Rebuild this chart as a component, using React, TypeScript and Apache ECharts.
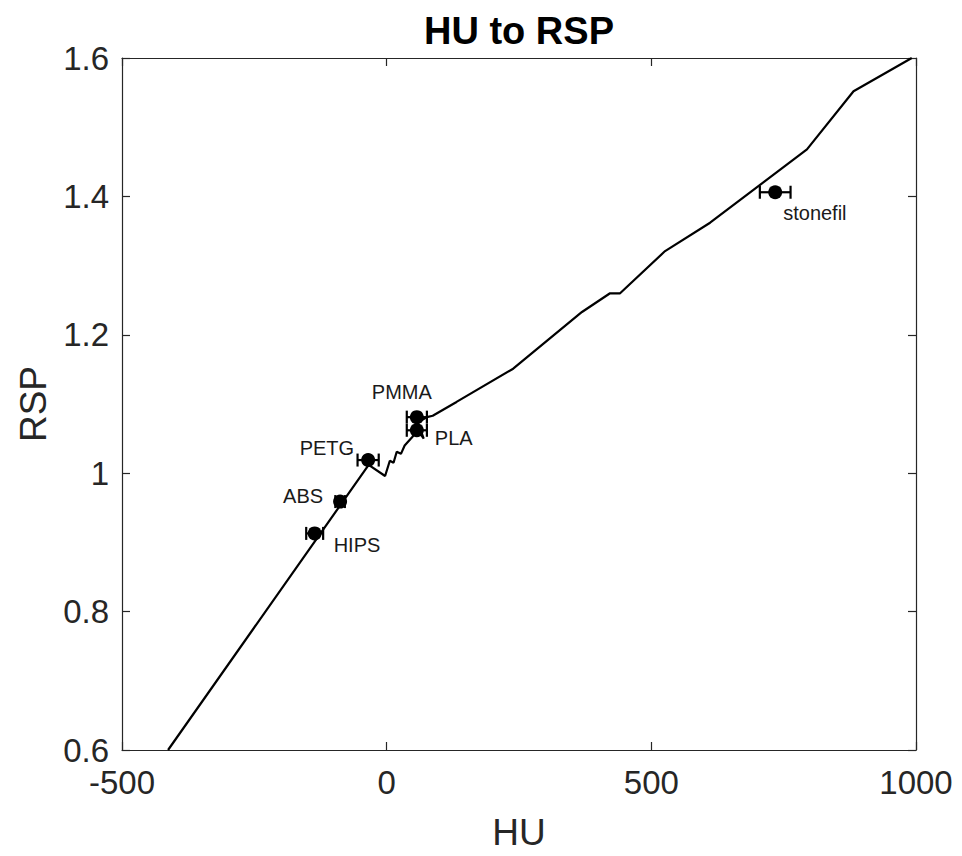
import React, { useEffect, useRef } from "react";
import * as echarts from "echarts";

// Calibration curve (HU -> RSP)
const curveHU = [-413, -34, -3, 6, 13, 19, 27, 34, 48, 59, 70, 59, 76, 87, 132, 239, 369, 422, 441, 526, 611, 794, 882, 992];
const curveRSP = [0.6, 1.012, 0.996, 1.018, 1.015, 1.031, 1.028, 1.04, 1.052, 1.062, 1.05, 1.073, 1.081, 1.083, 1.103, 1.151, 1.233, 1.26, 1.26, 1.321, 1.362, 1.468, 1.552, 1.6];

// Measured materials
const materials = ["HIPS", "ABS", "PETG", "PMMA", "PLA", "stonefil"];
const matHU = [-136, -88, -35, 57, 57, 734];
const matRSP = [0.913, 0.959, 1.019, 1.081, 1.062, 1.406];
const matErr = [16, 9, 20, 19, 19, 29];

// axis ticks
const xTicks = [-500, 0, 500, 1000];
const yTicks = [0.6, 0.8, 1, 1.2, 1.4, 1.6];

const labelPlacement: Record<string, { align: string; offset: number[] }> = {
  HIPS: { align: "left", offset: [19, 12] },
  ABS: { align: "right", offset: [-17, -6] },
  PETG: { align: "right", offset: [-14, -12] },
  PMMA: { align: "center", offset: [-15, -25] },
  PLA: { align: "left", offset: [18, 8] },
  stonefil: { align: "left", offset: [8, 21] },
};

const AX = "#262626";
const FONT = "'Liberation Sans', Arial, sans-serif";

export default function App() {
  const ref = useRef<HTMLDivElement>(null);
  useEffect(() => {
    if (!ref.current) return;
    const chart = echarts.init(ref.current, undefined, { renderer: "svg" });
    const axisCommon = {
      type: "value",
      axisLine: { show: true, onZero: false, lineStyle: { color: AX, width: 1.2 } },
      axisTick: { show: true, inside: true, length: 8, lineStyle: { color: AX, width: 1.2 } },
      splitLine: { show: false },
    };
    const option: any = {
      animation: false,
      backgroundColor: "#ffffff",
      textStyle: { fontFamily: FONT },
      graphic: [
        {
          type: "text",
          x: 519,
          y: 31,
          style: {
            text: "HU to RSP",
            fill: "#000",
            font: `bold 38px ${FONT}`,
            align: "center",
            verticalAlign: "middle",
          },
        },
      ],
      grid: { left: 122, top: 58, width: 794, height: 694, containLabel: false },
      xAxis: [
        {
          ...axisCommon,
          position: "bottom",
          min: xTicks[0],
          max: xTicks[xTicks.length - 1],
          interval: 500,
          name: "HU",
          nameLocation: "middle",
          nameGap: 64,
          nameTextStyle: { fontSize: 37, color: AX, fontFamily: FONT },
          axisLabel: { fontSize: 33, color: AX, margin: 16, fontFamily: FONT, formatter: (v: number) => String(v) },
        },
        {
          ...axisCommon,
          position: "top",
          min: xTicks[0],
          max: xTicks[xTicks.length - 1],
          interval: 500,
          axisLabel: { show: false },
        },
      ],
      yAxis: [
        {
          ...axisCommon,
          position: "left",
          min: yTicks[0],
          max: yTicks[yTicks.length - 1],
          interval: 0.2,
          name: "RSP",
          nameLocation: "middle",
          nameGap: 68,
          nameTextStyle: { fontSize: 37, color: AX, fontFamily: FONT },
          axisLabel: { fontSize: 33, color: AX, margin: 13, fontFamily: FONT },
        },
        {
          ...axisCommon,
          position: "right",
          min: yTicks[0],
          max: yTicks[yTicks.length - 1],
          interval: 0.2,
          axisLabel: { show: false },
        },
      ],
      series: [
        {
          type: "line",
          data: curveHU.map((h, i) => [h, curveRSP[i]]),
          symbol: "none",
          lineStyle: { color: "#000", width: 2.2 },
          clip: true,
          z: 2,
        },
        {
          type: "custom",
          data: matHU.map((h, i) => [h, matRSP[i], matErr[i]]),
          z: 3,
          renderItem: (params: any, api: any) => {
            const x = api.value(0);
            const y = api.value(1);
            const e = api.value(2);
            const a = api.coord([x - e, y]);
            const b = api.coord([x + e, y]);
            const cap = 6.5;
            const style = { stroke: "#000", lineWidth: 2.2 };
            return {
              type: "group",
              children: [
                { type: "line", shape: { x1: a[0], y1: a[1], x2: b[0], y2: b[1] }, style },
                { type: "line", shape: { x1: a[0], y1: a[1] - cap, x2: a[0], y2: a[1] + cap }, style },
                { type: "line", shape: { x1: b[0], y1: b[1] - cap, x2: b[0], y2: b[1] + cap }, style },
              ],
            };
          },
        },
        {
          type: "scatter",
          symbol: "circle",
          symbolSize: 14,
          itemStyle: { color: "#000", opacity: 1 },
          z: 4,
          data: materials.map((m, i) => ({
            name: m,
            value: [matHU[i], matRSP[i]],
            label: {
              show: true,
              position: "inside",
              formatter: m,
              align: labelPlacement[m].align,
              verticalAlign: "middle",
              offset: labelPlacement[m].offset,
              fontSize: 20,
              color: "#1a1a1a",
              opacity: 1,
              fontFamily: FONT,
            },
          })),
        },
      ],
    };
    chart.setOption(option);
    return () => chart.dispose();
  }, []);
  return (
    <div
      ref={ref}
      style={{ position: "absolute", left: 0, top: 0, width: 962, height: 856, background: "#fff" }}
    />
  );
}
